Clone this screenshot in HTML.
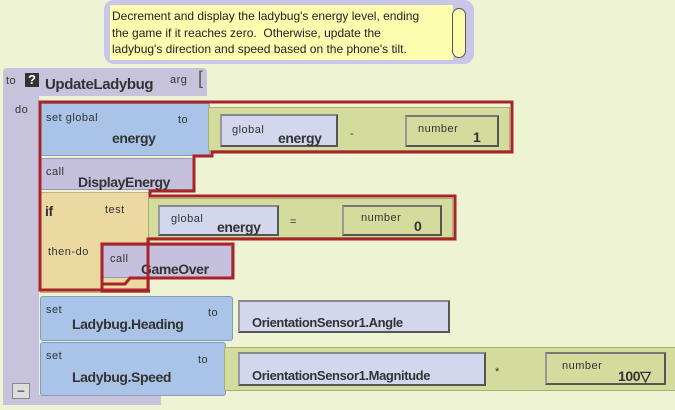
<!DOCTYPE html>
<html><head><meta charset="utf-8"><style>
body{margin:0;width:675px;height:410px;background:#eef3d3;position:relative;overflow:hidden;font-family:"Liberation Sans",sans-serif;}
.a{position:absolute;box-sizing:border-box}
.t{position:absolute;font-size:11px;color:#333;white-space:nowrap;letter-spacing:0.5px}
.b{position:absolute;font-size:14px;font-weight:bold;color:#333;white-space:nowrap;letter-spacing:-0.4px}
.blue{background:#a9c4e6;border:1px solid #7f9cc4;border-radius:3px}
.lav{background:#c5c0dd;border:1px solid #9a94b8;border-radius:3px}
.get{background:#d3d7ee;border:2px solid #555;border-top-color:#888;border-left-color:#999;}
.grn{background:#d4dc9d;border:1px solid #a8b070}
.num{background:#d4dc9d;border:2px solid #555;border-top-color:#777;border-left-color:#999}
</style></head><body>
<div class="a" style="left:104px;top:0;width:370px;height:64px;background:#c9c6ea;border-radius:10px"></div>
<div class="a" style="left:110px;top:5px;width:343px;height:55px;background:#fdfdb0"></div>
<div class="a" style="left:452px;top:8px;width:14px;height:50px;border:1px solid #555;border-radius:7px;background:#fdfdb0"></div>
<div class="t" style="left:112px;top:8px;font-size:12px;line-height:16.5px;letter-spacing:0;color:#222">Decrement and display the ladybug's energy level, ending<br>the game if it reaches zero.&nbsp; Otherwise, update the<br>ladybug's direction and speed based on the phone's tilt.</div>
<div class="a" style="left:3px;top:68px;width:204px;height:28px;background:#c8c3dd;border-radius:4px 4px 0 0"></div>
<div class="a" style="left:3px;top:94px;width:36px;height:310px;background:#c8c3dd"></div>
<div class="a" style="left:3px;top:395px;width:158px;height:10px;background:#c8c3dd"></div>
<div class="t" style="left:6px;top:75px">to</div>
<div class="a" style="left:25px;top:73px;width:14px;height:14px;background:#333;color:#fff;font-weight:bold;font-size:13px;text-align:center;line-height:14px">?</div>
<div class="b" style="left:45px;top:76px;font-size:15px">UpdateLadybug</div>
<div class="t" style="left:170px;top:74px">arg</div>
<div class="t" style="left:198px;top:68px;font-size:18px;color:#555">[</div>
<div class="t" style="left:15px;top:104px">do</div>
<div class="a" style="left:12px;top:383px;width:18px;height:16px;border:1px solid #888;background:#ddd;font-size:12px;text-align:center;line-height:12px">–</div>
<div class="a blue" style="left:40px;top:103px;width:170px;height:53px"></div>
<div class="t" style="left:46px;top:112px">set global</div>
<div class="t" style="left:178px;top:114px">to</div>
<div class="b" style="left:112px;top:130px">energy</div>
<div class="a grn" style="left:208px;top:107px;width:302px;height:44px"></div>
<div class="a get" style="left:220px;top:114px;width:118px;height:33px"></div>
<div class="t" style="left:232px;top:124px">global</div>
<div class="b" style="left:278px;top:130px">energy</div>
<div class="t" style="left:350px;top:128px">-</div>
<div class="a num" style="left:405px;top:115px;width:94px;height:32px"></div>
<div class="t" style="left:418px;top:123px">number</div>
<div class="b" style="left:473px;top:129px">1</div>
<div class="a lav" style="left:40px;top:158px;width:154px;height:32px"></div>
<div class="t" style="left:46px;top:166px">call</div>
<div class="b" style="left:78px;top:174px">DisplayEnergy</div>
<div class="a" style="left:40px;top:192px;width:110px;height:101px;background:#ecd9a2;border:1px solid #c4b07a"></div>
<div class="b" style="left:45px;top:203px">if</div>
<div class="t" style="left:105px;top:204px">test</div>
<div class="t" style="left:48px;top:246px">then-do</div>
<div class="a grn" style="left:148px;top:198px;width:305px;height:40px"></div>
<div class="a get" style="left:158px;top:205px;width:121px;height:31px"></div>
<div class="t" style="left:171px;top:213px">global</div>
<div class="b" style="left:217px;top:219px">energy</div>
<div class="t" style="left:290px;top:216px">=</div>
<div class="a num" style="left:342px;top:205px;width:100px;height:31px"></div>
<div class="t" style="left:361px;top:212px">number</div>
<div class="b" style="left:414px;top:218px">0</div>
<div class="a lav" style="left:102px;top:245px;width:130px;height:33px"></div>
<div class="t" style="left:110px;top:253px">call</div>
<div class="b" style="left:141px;top:261px">GameOver</div>
<svg class="a" style="left:0;top:0" width="675" height="410"><g fill="none" stroke="#a8232a" stroke-width="3">
<path d="M40,102 H512 V152 H212 V156 H194 V191 H150 V196 H455 V239 H148 V290 H40 Z"/>
<path d="M102,244 H233 V278 H130 L125,284 H102 Z M102,284 V291 H150"/>
</g></svg>
<div class="a blue" style="left:40px;top:296px;width:193px;height:45px"></div>
<div class="t" style="left:46px;top:304px">set</div>
<div class="t" style="left:208px;top:307px">to</div>
<div class="b" style="left:72px;top:316px">Ladybug.Heading</div>
<div class="a get" style="left:238px;top:300px;width:212px;height:33px"></div>
<div class="b" style="left:252px;top:315px;font-size:13px">OrientationSensor1.Angle</div>
<div class="a blue" style="left:40px;top:342px;width:186px;height:54px"></div>
<div class="t" style="left:46px;top:350px">set</div>
<div class="t" style="left:198px;top:354px">to</div>
<div class="b" style="left:72px;top:369px">Ladybug.Speed</div>
<div class="a grn" style="left:224px;top:347px;width:455px;height:44px"></div>
<div class="a get" style="left:238px;top:352px;width:248px;height:34px"></div>
<div class="b" style="left:252px;top:368px;font-size:13px">OrientationSensor1.Magnitude</div>
<div class="t" style="left:495px;top:366px">*</div>
<div class="a num" style="left:545px;top:352px;width:121px;height:33px"></div>
<div class="t" style="left:562px;top:360px">number</div>
<div class="b" style="left:618px;top:368px">100▽</div>
</body></html>
